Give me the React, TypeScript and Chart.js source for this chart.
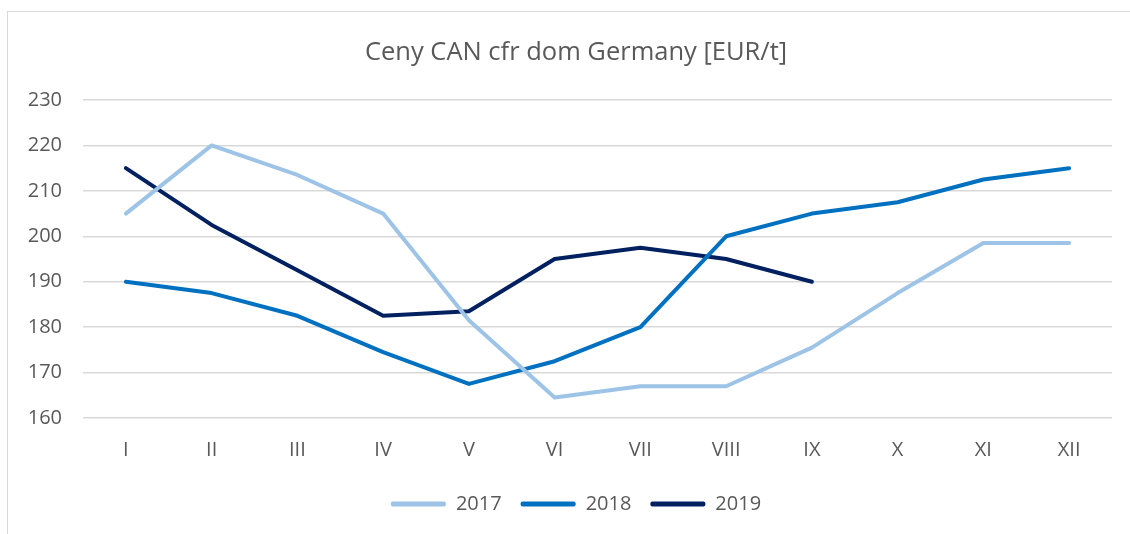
import React, { useEffect, useRef } from "react";
import { Chart, registerables } from "chart.js";

Chart.register(...registerables);

const categories = ["I", "II", "III", "IV", "V", "VI", "VII", "VIII", "IX", "X", "XI", "XII"];
const series2017 = [205, 220, 213.5, 205, 181.5, 164.5, 167, 167, 175.5, 187.5, 198.5, 198.5];
const series2018 = [190, 187.5, 182.5, 174.5, 167.5, 172.5, 180, 200, 205, 207.5, 212.5, 215];
const series2019 = [215, 202.5, 192.5, 182.5, 183.5, 195, 197.5, 195, 190, null, null, null];
const seriesLabels = ["2017", "2018", "2019"];
const seriesColors = ["#9DC3E6", "#0070C0", "#002060"];
const titleText = "Ceny CAN cfr dom Germany [EUR/t]";
const yMin = 160;
const yMax = 230;
const yStep = 10;

const FONT = "'Open Sans', 'DejaVu Sans', sans-serif";
const TEXT = "#595959";

const shiftPlugin = {
  id: "shiftHeaderLegend",
  afterLayout(c: any) {
    if (c.legend) c.legend.left += 40;
    if (c.titleBlock) c.titleBlock.left += 40;
  },
};

export default function App() {
  const ref = useRef<HTMLCanvasElement | null>(null);
  useEffect(() => {
    if (!ref.current) return;
    const data = [series2017, series2018, series2019];
    const chart = new Chart(ref.current, {
      type: "line",
      data: {
        labels: categories,
        datasets: data.map((d, i) => ({
          label: seriesLabels[i],
          data: d,
          borderColor: seriesColors[i],
          backgroundColor: seriesColors[i],
          borderWidth: 4,
          pointRadius: 0,
          tension: 0,
          fill: false,
          borderCapStyle: "round" as const,
          borderJoinStyle: "round" as const,
          spanGaps: false,
        })),
      },
      plugins: [shiftPlugin],
      options: {
        animation: false,
        responsive: false,
        maintainAspectRatio: false,
        layout: { padding: { left: 0, right: 18, top: 0, bottom: 10 } },
        plugins: {
          title: {
            display: true,
            text: titleText,
            color: TEXT,
            font: { family: FONT, size: 25.5, weight: "normal" },
            padding: { top: 37, bottom: 32.4 },
          },
          legend: {
            position: "bottom",
            labels: {
              color: TEXT,
              font: { family: FONT, size: 20 },
              boxWidth: 55,
              boxHeight: 5,
              padding: 19,
              useBorderRadius: true,
              borderRadius: 2,
              generateLabels: (c: any) =>
                c.data.datasets.map((ds: any, i: number) => ({
                  text: ds.label,
                  fillStyle: ds.borderColor,
                  strokeStyle: ds.borderColor,
                  lineWidth: 0,
                  fontColor: TEXT,
                  datasetIndex: i,
                  hidden: false,
                  borderRadius: 2,
                })),
            },
          },
          tooltip: { enabled: false },
        },
        scales: {
          x: {
            offset: true,
            grid: { display: false, drawTicks: false, offset: true },
            border: { display: false },
            ticks: { color: TEXT, font: { family: FONT, size: 20 }, padding: 20, maxRotation: 0, autoSkip: false },
            afterFit: (s: any) => {
              s.height = s.height - 7;
            },
          },
          y: {
            min: yMin,
            max: yMax,
            grid: { color: "#D9D9D9", lineWidth: 1.5, drawTicks: false },
            border: { display: false },
            ticks: { stepSize: yStep, color: TEXT, font: { family: FONT, size: 20 }, padding: 21 },
            afterFit: (s: any) => {
              s.width = 83;
            },
          },
        },
      },
    });
    return () => chart.destroy();
  }, []);
  return (
    <div style={{ position: "fixed", left: 0, top: 0, width: 1130, height: 534, background: "#fff", overflow: "hidden" }}>
      <div
        style={{
          position: "absolute",
          left: 7,
          top: 11,
          width: 1200,
          height: 600,
          border: "1.5px solid #D9D9D9",
        }}
      />
      <canvas ref={ref} width={1130} height={534} style={{ position: "absolute", left: 0, top: 0 }} />
    </div>
  );
}
